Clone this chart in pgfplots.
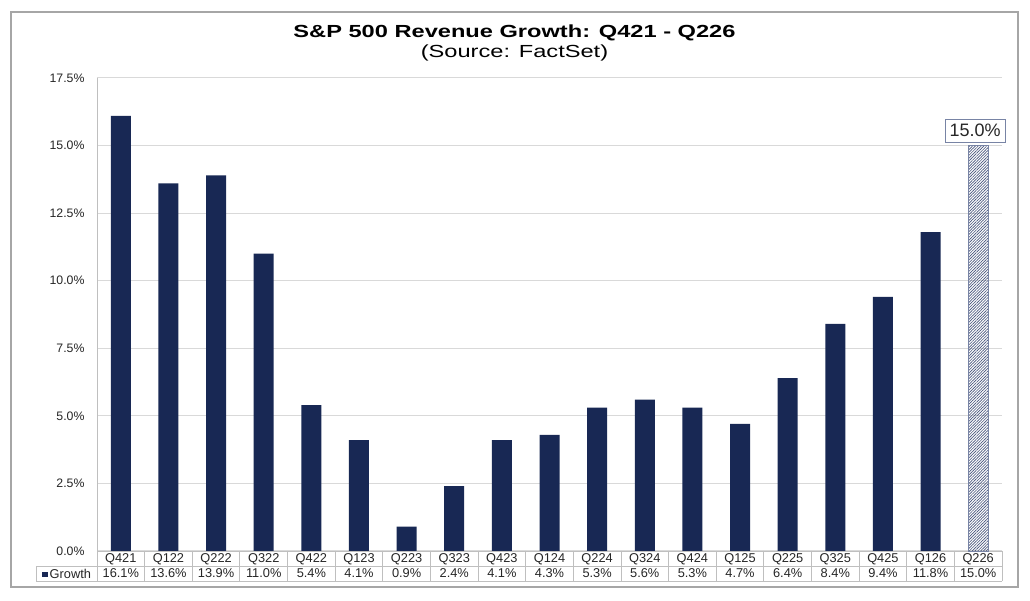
\documentclass[border=0pt]{standalone}
\usepackage{fontspec}
\setmainfont{Liberation Sans}
\newfontfamily\fTitle{Liberation Sans}[FakeStretch=1.35, NFSSFamily=lstitle]
\usepackage{pgfplots}
\pgfplotsset{compat=1.18}
\usetikzlibrary{patterns.meta}
\definecolor{navy}{RGB}{24,40,84}
\definecolor{hatch}{RGB}{70,84,124}
\definecolor{gridc}{RGB}{217,217,217}
\definecolor{tabc}{RGB}{191,191,191}
\definecolor{framec}{RGB}{166,166,166}
\definecolor{txt}{RGB}{38,38,38}
\definecolor{boxc}{RGB}{120,132,165}
\protected\def\tl#1#2{\begin{tabular}{@{}c@{}}#1\\#2\end{tabular}}
\begin{document}
\begin{tikzpicture}
\begin{scope}[x=1pt,y=1pt]
\useasboundingbox (0,0) rectangle (1030,601);
\fill[white] (0,0) rectangle (1030,601);
\draw[framec, line width=1.3pt] (11,14) rectangle (1018,589);
\node[font=\fTitle\bfseries\fontsize{17.5}{20}\selectfont, anchor=base, inner sep=0pt] at (514.5,563) {S\&P 500 Revenue Growth: Q421 - Q226};
\node[font=\fTitle\fontsize{17.5}{20}\selectfont, anchor=base, inner sep=0pt] at (514.5,543.5) {(Source: FactSet)};
\end{scope}
\begin{axis}[
  at={(97pt,50pt)}, anchor=south west,
  scale only axis, width=905pt, height=473pt,
  xmin=-0.5, xmax=18.5, ymin=0, ymax=17.5,
  ytick={0,2.5,5,7.5,10,12.5,15,17.5},
  xtick={0,...,18},
  xticklabels={\tl{Q421}{16.1\%},\tl{Q122}{13.6\%},\tl{Q222}{13.9\%},\tl{Q322}{11.0\%},\tl{Q422}{5.4\%},\tl{Q123}{4.1\%},\tl{Q223}{0.9\%},\tl{Q323}{2.4\%},\tl{Q423}{4.1\%},\tl{Q124}{4.3\%},\tl{Q224}{5.3\%},\tl{Q324}{5.6\%},\tl{Q424}{5.3\%},\tl{Q125}{4.7\%},\tl{Q225}{6.4\%},\tl{Q325}{8.4\%},\tl{Q425}{9.4\%},\tl{Q126}{11.8\%},\tl{Q226}{15.0\%}},
  ybar, bar width=20pt,
  axis lines=left,
  axis line style={-, draw=tabc, line width=0.8pt},
  ymajorgrids, grid style={gridc, line width=1pt},
  major tick length=0,
  /pgf/number format/assume math mode=true,
  yticklabel={\pgfmathprintnumber[fixed,fixed zerofill,precision=1]{\tick}\%},
  yticklabel style={font=\rmfamily\fontsize{12.3}{14}\selectfont, text=txt, anchor=east, xshift=-9pt},
  xticklabel style={font=\rmfamily\fontsize{12.8}{15}\selectfont, text=txt, anchor=center, yshift=-16.5pt, inner sep=0pt},
  clip=false,
]
\addplot[fill=navy, draw=none, bar shift=0pt] coordinates {
  (0,16.1) (1,13.6) (2,13.9) (3,11.0) (4,5.4) (5,4.1) (6,0.9) (7,2.4) (8,4.1)
  (9,4.3) (10,5.3) (11,5.6) (12,5.3) (13,4.7) (14,6.4) (15,8.4) (16,9.4) (17,11.8)};
\addplot[pattern={Lines[angle=45,distance=2pt,line width=0.65pt]}, pattern color=hatch, draw=boxc, line width=0.5pt, bar shift=0pt,
  nodes near coords={\pgfmathprintnumber[fixed,fixed zerofill,precision=1]{\pgfplotspointmeta}\%},
  every node near coord/.append style={font=\rmfamily\fontsize{18}{20}\selectfont, text=txt, draw=boxc, line width=1pt, fill=white, anchor=south, yshift=3pt, inner xsep=4.5pt, inner ysep=0pt, minimum height=23pt, text height=12.5pt, text depth=0pt, xshift=-3pt}
  ] coordinates {(18,15.0)};
\end{axis}
\begin{scope}[x=1pt,y=1pt,tabc, line width=0.8pt]
\draw (36,35) -- (1002,35);
\draw (36,20) -- (1002,20);
\draw (36,20) -- (36,35);
\foreach \k in {0,...,19} \draw ({97+47.6316*\k},50) -- ({97+47.6316*\k},20);
\node[font=\rmfamily\fontsize{12.8}{15}\selectfont, text=txt, inner sep=0pt] at (66.5,27.5) {\textcolor{navy}{\raisebox{1pt}{\rule{5.5pt}{5.5pt}}}\,Growth};
\end{scope}
\end{tikzpicture}
\end{document}
